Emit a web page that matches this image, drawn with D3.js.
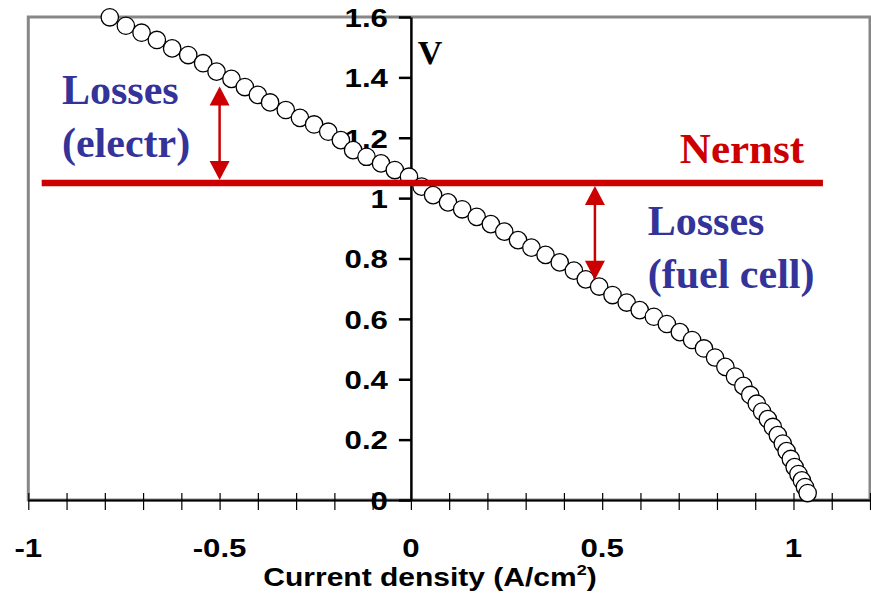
<!DOCTYPE html>
<html>
<head>
<meta charset="utf-8">
<script src="https://cdn.jsdelivr.net/npm/d3@7"></script>
<style>
  html, body { margin: 0; padding: 0; background: #ffffff; }
  svg { display: block; }
</style>
</head>
<body>
<script>
// ---- data ----
const currentDensity = [
  -0.787, -0.745, -0.704, -0.664, -0.624, -0.582, -0.543, -0.508, -0.469, -0.434,
  -0.400, -0.368, -0.327, -0.290, -0.253, -0.216, -0.183, -0.151, -0.116, -0.078,
  -0.042, -0.005, 0.028, 0.058, 0.097, 0.134, 0.172, 0.209, 0.244, 0.280,
  0.315, 0.352, 0.389, 0.426, 0.457, 0.492, 0.527, 0.564, 0.598, 0.635,
  0.669, 0.703, 0.735, 0.766, 0.795, 0.822, 0.847, 0.869, 0.887, 0.904,
  0.918, 0.933, 0.946, 0.959, 0.972, 0.982, 0.993, 1.003, 1.013, 1.022,
  1.030, 1.037
];
const voltage = [
  1.599, 1.571, 1.548, 1.524, 1.496, 1.474, 1.447, 1.419, 1.395, 1.368,
  1.342, 1.317, 1.292, 1.266, 1.244, 1.220, 1.192, 1.159, 1.137, 1.115,
  1.093, 1.071, 1.038, 1.010, 0.986, 0.963, 0.938, 0.914, 0.889, 0.861,
  0.836, 0.812, 0.787, 0.760, 0.731, 0.707, 0.679, 0.654, 0.629, 0.607,
  0.583, 0.556, 0.530, 0.502, 0.472, 0.441, 0.409, 0.378, 0.348, 0.319,
  0.293, 0.268, 0.242, 0.215, 0.187, 0.162, 0.136, 0.109, 0.086, 0.065,
  0.043, 0.023
];
const xDomain = [-1, 1.2];
const yDomain = [0, 1.6];
const xTickLabels = [-1, -0.5, 0, 0.5, 1];
const xMinorTicks = d3.range(-10, 13).map(i => i / 10);
const yTickLabels = [0, 0.2, 0.4, 0.6, 0.8, 1, 1.2, 1.4, 1.6];
const nernstVoltage = 1.05;
const nernstExtent = [-0.965, 1.077];
const lossArrowX = [-0.5, 0.481];
const lossArrowFrom = [1.06, 1.04];
const lossArrowTo = [1.37, 0.73];

// ---- layout ----
const W = 871, H = 597;
const svg = d3.select("body").append("svg").attr("width", W).attr("height", H);
const x = d3.scaleLinear().domain(xDomain).range([28.3, 870]);
const y = d3.scaleLinear().domain(yDomain).range([500, 17]);

const sans = "'Liberation Sans', Arial, sans-serif";
const serif = "'Liberation Serif', 'Times New Roman', serif";
const SX = 1.2; // horizontal stretch of sans text in the reference

// frame
svg.append("rect")
  .attr("x", x(xDomain[0])).attr("y", y(yDomain[1]))
  .attr("width", x(xDomain[1]) - x(xDomain[0]))
  .attr("height", y(yDomain[0]) - y(yDomain[1]))
  .attr("fill", "none").attr("stroke", "#878787").attr("stroke-width", 3);

// x axis (minor ticks crossing the axis)
const gx = svg.append("g").attr("transform", `translate(0,${y(0)})`)
  .call(d3.axisBottom(x).tickValues(xMinorTicks).tickSize(10).tickSizeOuter(0).tickFormat(""));
gx.select(".domain").attr("stroke", "#000").attr("stroke-width", 2);
gx.selectAll(".tick line").attr("y1", -7).attr("stroke", "#000").attr("stroke-width", 1.2);

// x labels
svg.append("g").selectAll("text").data(xTickLabels).join("text")
  .attr("transform", d => `translate(${x(d)},557) scale(${SX},1)`)
  .attr("text-anchor", "middle")
  .attr("font-family", sans).attr("font-weight", "bold").attr("font-size", 26)
  .text(d => String(d));

// y axis at x = 0
const gy = svg.append("g").attr("transform", `translate(${x(0)},0)`)
  .call(d3.axisLeft(y).tickValues(yTickLabels).tickSize(12).tickSizeOuter(0)
    .tickFormat(d => String(+d.toFixed(1))));
gy.select(".domain").attr("stroke", "#000").attr("stroke-width", 2.5);
gy.selectAll(".tick line").attr("stroke", "#000").attr("stroke-width", 2.5);
gy.selectAll(".tick text")
  .attr("x", 0).attr("dy", "0.36em")
  .attr("transform", `translate(-23,0) scale(${SX},1)`)
  .attr("font-family", sans).attr("font-weight", "bold").attr("font-size", 26)
  .attr("fill", "#000");

// axis title
const title = svg.append("text")
  .attr("transform", `translate(${x(0.05)},586) scale(${SX},1)`)
  .attr("text-anchor", "middle")
  .attr("font-family", sans).attr("font-weight", "bold").attr("font-size", 25);
title.append("tspan").text("Current density (A/cm");
title.append("tspan").attr("font-size", 15).attr("dy", -11).text("2");
title.append("tspan").attr("dy", 11).text(")");

// V label
svg.append("text")
  .attr("x", x(0.018)).attr("y", y(1.444))
  .attr("font-family", serif).attr("font-weight", "bold").attr("font-size", 34)
  .text("V");

// data points
const pts = currentDensity.map((d, i) => [d, voltage[i]]);
svg.append("g").selectAll("circle").data(pts).join("circle")
  .attr("cx", d => x(d[0])).attr("cy", d => y(d[1])).attr("r", 8.7)
  .attr("fill", "#fff").attr("stroke", "#000").attr("stroke-width", 1.3);

// Nernst line
svg.append("line")
  .attr("x1", x(nernstExtent[0])).attr("x2", x(nernstExtent[1]))
  .attr("y1", y(nernstVoltage)).attr("y2", y(nernstVoltage))
  .attr("stroke", "#cc0000").attr("stroke-width", 6.5);

// loss arrows
const red = "#cc0000";
lossArrowX.forEach((ax, i) => {
  const px = x(ax);
  const y1 = y(lossArrowFrom[i]), y2 = y(lossArrowTo[i]);
  const top = Math.min(y1, y2), bot = Math.max(y1, y2);
  const hw = 10, hh = 19;
  const g = svg.append("g");
  g.append("line").attr("x1", px).attr("x2", px).attr("y1", top + hh - 2).attr("y2", bot - hh + 2)
    .attr("stroke", red).attr("stroke-width", 2.5);
  g.append("path").attr("d", `M${px},${top} L${px - hw},${top + hh} L${px + hw},${top + hh} Z`).attr("fill", red);
  g.append("path").attr("d", `M${px},${bot} L${px - hw},${bot - hh} L${px + hw},${bot - hh} Z`).attr("fill", red);
});

// annotations
svg.append("text")
  .attr("x", x(0.703)).attr("y", y(1.116))
  .attr("font-family", serif).attr("font-weight", "bold").attr("font-size", 43)
  .attr("fill", red).text("Nernst");

const blue = "#333399";
function twoLine(lines, dx, dy) {
  const t = svg.append("text")
    .attr("font-family", serif).attr("font-weight", "bold").attr("font-size", 42)
    .attr("fill", blue);
  lines.forEach((s, i) => {
    t.append("tspan").attr("x", x(dx)).attr("y", y(dy) + i * 53).text(s);
  });
}
twoLine(["Losses", "(electr)"], -0.912, 1.312);
twoLine(["Losses", "(fuel cell)"], 0.619, 0.878);
</script>
</body>
</html>
